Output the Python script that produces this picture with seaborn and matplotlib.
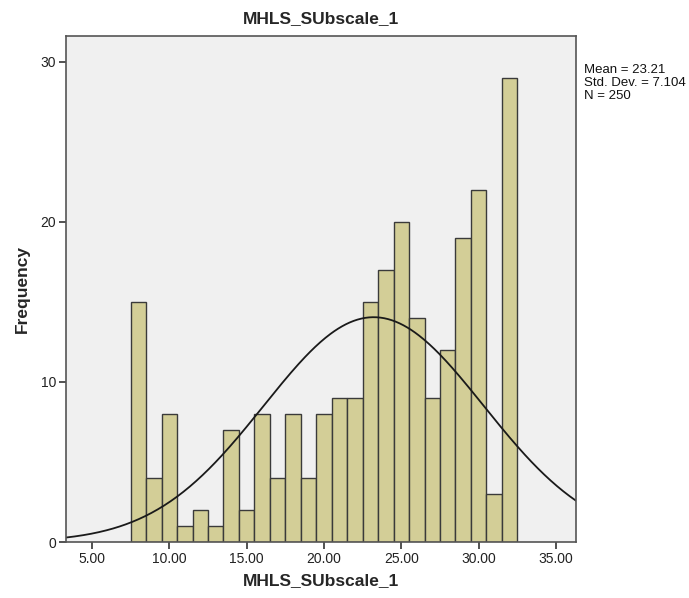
import numpy as np
import pandas as pd
import matplotlib
matplotlib.use("Agg")
import matplotlib.pyplot as plt
import seaborn as sns

# Score values (bin centres) and their frequencies
scores = [8, 9, 10, 11, 12, 13, 14, 15, 16, 17, 18, 19, 20, 21, 22, 23, 24, 25,
          26, 27, 28, 29, 30, 31, 32]
counts = [15, 4, 8, 1, 2, 1, 7, 2, 8, 4, 8, 4, 8, 9, 9, 15, 17, 20,
          14, 9, 12, 19, 22, 3, 29]

mean_val = 23.21
sd_val = 7.104
n_val = 250

x_ticks = [5, 10, 15, 20, 25, 30, 35]
x_tick_labels = ["5.00", "10.00", "15.00", "20.00", "25.00", "30.00", "35.00"]
y_ticks = [0, 10, 20, 30]

sns.set_style("white")
plt.rcParams["font.family"] = ["Liberation Sans", "DejaVu Sans"]

df = pd.DataFrame({"MHLS_SUbscale_1": scores, "count": counts})

fig = plt.figure(figsize=(6.89, 5.98), dpi=100)
ax = fig.add_axes([66 / 689, 56 / 598, 510 / 689, 506 / 598])
ax.set_facecolor("#F0F0F0")

sns.histplot(data=df, x="MHLS_SUbscale_1", weights="count", discrete=True,
             color="#D3CE97", edgecolor="#3a3a3a", linewidth=1.0, alpha=1.0,
             ax=ax)

# Normal curve scaled to counts (bin width 1)
xs = np.linspace(3.3, 36.3, 400)
ys = n_val * 1.0 / (sd_val * np.sqrt(2 * np.pi)) * np.exp(-0.5 * ((xs - mean_val) / sd_val) ** 2)
ax.plot(xs, ys, color="#1a1a1a", linewidth=1.3)

ax.set_xlim(3.32, 36.29)
ax.set_ylim(0, 31.6)
ax.set_xticks(x_ticks)
ax.set_xticklabels(x_tick_labels)
ax.set_yticks(y_ticks)
ax.tick_params(axis="both", direction="out", length=5, width=1.2, color="#333333",
               labelsize=10, labelcolor="#222222", pad=2, bottom=True, left=True)

for s in ax.spines.values():
    s.set_color("#555555")
    s.set_linewidth(1.2)

ax.set_xlabel("MHLS_SUbscale_1", fontsize=12.5, fontweight="bold", labelpad=5)
ax.set_ylabel("Frequency", fontsize=12.5, fontweight="bold", labelpad=8)
ax.set_title("MHLS_SUbscale_1", fontsize=12.5, fontweight="bold", pad=9)

fig.text(584 / 689, 1 - 64 / 598,
         f"Mean = {mean_val:.2f}\nStd. Dev. = {sd_val:.3f}\nN = {n_val}",
         fontsize=9.5, va="top", ha="left", linespacing=1.1, color="#111111")

fig.savefig("out.png", dpi=100, facecolor="white")
